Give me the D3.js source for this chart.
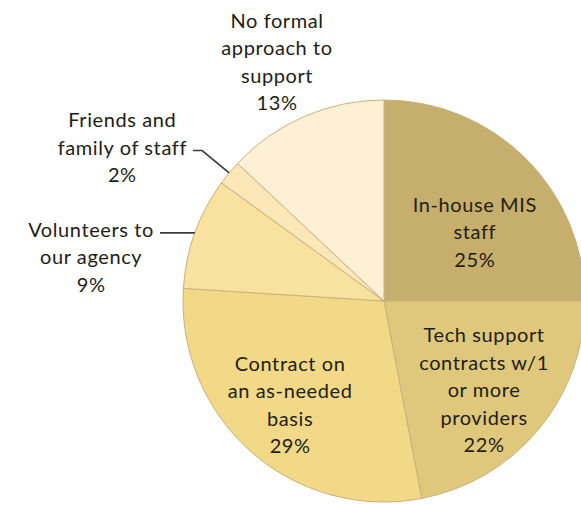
<!DOCTYPE html>
<html>
<head>
<meta charset="utf-8">
<script src="https://cdn.jsdelivr.net/npm/d3@7"></script>
<style>
  body { margin: 0; background: #fff; }
  svg text { font-family: Lato, "Open Sans", sans-serif; font-size: 20px; letter-spacing: 0.6px; fill: #221d14; }
</style>
</head>
<body>
<svg></svg>
<script>
// slices, clockwise from 12 o'clock
var categories = [
    ["In-house MIS", "staff"],
    ["Tech support", "contracts w/1", "or more", "providers"],
    ["Contract on", "an as-needed", "basis"],
    ["Volunteers to", "our agency"],
    ["Friends and", "family of staff"],
    ["No formal", "approach to", "support"]
];
var percentages = [25, 22, 29, 9, 2, 13];
var colors = ["#c6ae6d", "#dfc77c", "#f2d988", "#f9e19f", "#fce7b8", "#fdf0d5"];

var svgWidth = 581, svgHeight = 505;
var cx = 384, cy = 301, radius = 201, lineH = 27.5;

var svg = d3.select('svg')
    .attr("width", svgWidth)
    .attr("height", svgHeight);

var g = svg.append("g")
    .attr("transform", "translate(" + cx + "," + cy + ")");

var pie = d3.pie().sort(null).value(function(d) { return d; });
var arcs = pie(percentages);

var path = d3.arc()
    .outerRadius(radius)
    .innerRadius(0);

g.selectAll("path")
    .data(arcs)
    .enter()
    .append("path")
    .attr("d", path)
    .attr("fill", function(d, i) { return colors[i]; })
    .attr("stroke", "#c9b27a")
    .attr("stroke-width", 1);

// where each label block sits: radius from centre and a small angle nudge (degrees)
// outside labels get a leader instead
var place = [
    {r: 114, shift: 7.8},
    {r: 134, shift: 2.1},
    {r: 140, shift: 0.7},
    {outside: true, elbow: 0, end: 160, attach: 0},
    {outside: true, elbow: 236, end: 193, attach: 1},
    {r: 262, shift: -0.7}
];

function polar(r, a) {
    return [r * Math.sin(a), -r * Math.cos(a)];
}

arcs.forEach(function(d, i) {
    var lines = categories[i].concat([percentages[i] + "%"]);
    var mid = (d.startAngle + d.endAngle) / 2;
    var p = place[i];
    var t = g.append("text").attr("text-anchor", "middle");

    if (!p.outside) {
        var c = polar(p.r, mid + p.shift * Math.PI / 180);
        var first = c[1] - (lines.length - 1) * lineH / 2 + 7;
        lines.forEach(function(s, k) {
            t.append("tspan").attr("x", c[0]).attr("y", first + k * lineH).text(s);
        });
        return;
    }

    // leader line: edge of slice -> elbow -> horizontal to the label
    var a0 = polar(radius, mid);
    var el = p.elbow ? polar(p.elbow, mid) : a0;
    var endX = p.end - cx;
    g.append("path")
        .attr("d", d3.line()([a0, el, [endX, el[1]]]))
        .attr("fill", "none")
        .attr("stroke", "#3a3a3a")
        .attr("stroke-width", 1.6);

    var spans = lines.map(function(s, k) {
        return t.append("tspan").attr("y", el[1] + 4 + (k - p.attach) * lineH).text(s);
    });
    var w = spans[p.attach].node().getComputedTextLength();
    var centerX = endX - 6 - w / 2;
    spans.forEach(function(s) { s.attr("x", centerX); });
});
</script>
</body>
</html>
